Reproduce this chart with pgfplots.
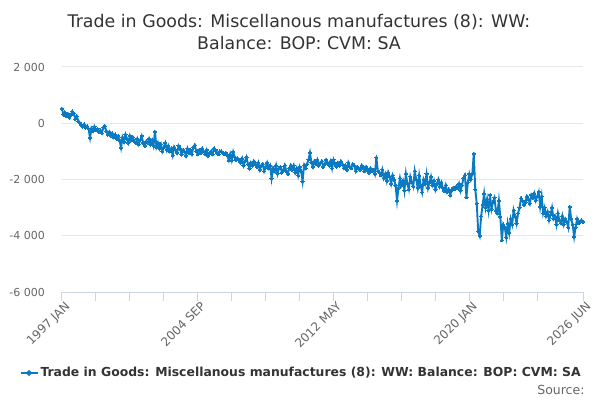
\documentclass[border=0pt]{standalone}
\usepackage{pgfplots}
\usepackage{pgfplotstable}
\pgfplotsset{compat=1.18}
\usepackage{fontspec}
\setmainfont{DejaVu Sans}
\definecolor{ser}{RGB}{10,122,195}
\definecolor{titlec}{HTML}{333333}
\definecolor{tickc}{HTML}{666666}
\definecolor{gridc}{HTML}{E6E6E6}
\definecolor{axisc}{HTML}{CCD6EB}
\pgfplotstableread{
v
520
300
380
250
330
200
280
420
350
150
250
80
20
-60
-120
-40
-150
-100
-200
-520
-180
-280
-120
-250
-200
-300
-250
-350
-150
-100
-280
-400
-300
-450
-350
-500
-400
-550
-450
-600
-870
-500
-650
-400
-550
-700
-450
-600
-500
-650
-700
-550
-750
-600
-450
-700
-800
-650
-700
-550
-750
-600
-800
-300
-850
-700
-900
-750
-1000
-850
-700
-950
-800
-1000
-900
-1140
-850
-950
-1050
-800
-900
-1100
-950
-1000
-1150
-900
-1050
-950
-1100
-850
-780
-1000
-1100
-950
-1050
-900
-1000
-1100
-950
-1150
-1050
-1000
-1100
-900
-950
-1050
-1100
-1000
-1000
-1050
-1100
-1050
-1150
-1320
-1100
-1320
-1020
-1200
-1300
-1250
-1300
-1400
-1250
-1500
-1350
-1200
-1450
-1600
-1400
-1500
-1350
-1450
-1550
-1400
-1650
-1500
-1450
-1700
-1550
-1400
-1600
-1500
-1960
-1600
-1700
-1500
-1800
-1600
-1550
-1750
-1650
-1500
-1700
-1800
-1600
-1490
-1650
-1500
-1750
-1600
-1850
-1550
-1700
-2060
-1500
-1600
-1450
-1300
-1050
-1400
-1550
-1350
-1450
-1300
-1500
-1400
-1350
-1550
-1450
-1300
-1400
-1500
-1350
-1600
-1300
-1450
-1550
-1400
-1500
-1350
-1450
-1600
-1500
-1650
-1400
-1550
-1600
-1450
-1500
-1700
-1550
-1600
-1650
-1500
-1600
-1700
-1550
-1650
-1750
-1600
-1700
-1650
-1800
-1210
-1700
-1750
-1850
-1650
-1950
-1800
-2050
-1750
-1900
-2150
-1850
-2000
-2200
-2760
-2300
-1950
-2200
-2050
-2400
-1800
-2150
-2350
-1900
-2100
-2250
-1700
-2000
-2300
-1850
-2200
-2450
-2000
-2150
-1800
-2300
-2100
-1900
-2200
-2050
-2350
-2150
-2000
-2250
-2100
-2300
-2400
-2200
-2450
-2350
-2560
-2400
-2300
-2350
-2250
-2300
-2150
-2400
-2200
-1950
-1850
-2630
-2100
-1800
-2000
-1800
-1080
-2350
-2850
-3850
-4000
-3300
-2900
-2500
-3000
-2700
-3100
-2550
-3050
-2800
-2650
-3100
-3200
-2750
-3330
-4160
-3600
-3700
-4050
-3560
-3900
-3400
-3600
-3090
-3300
-3560
-3200
-3000
-2670
-2750
-2900
-2800
-2600
-2700
-2850
-2550
-2650
-2490
-2750
-2600
-2440
-2970
-2600
-3200
-3000
-3300
-3150
-3450
-3250
-3000
-3400
-3300
-3600
-3200
-3450
-3550
-3300
-3600
-3400
-3500
-3700
-2970
-3400
-3600
-4040
-3700
-3400
-3550
-3500
-3450
-3510
}\datatable
\begin{document}
\begin{tikzpicture}
\useasboundingbox (0pt,0pt) rectangle (600pt,400pt);
\node[font=\fontsize{17.4}{22}\selectfont, text=titlec, align=center] at (299pt,368pt) {Trade in Goods: Miscellanous manufactures (8): WW:\\Balance: BOP: CVM: SA};
\node[font=\fontsize{12.5}{14}\selectfont, text=tickc, anchor=east] at (588pt,10pt) {Source:};
\begin{axis}[
  at={(62pt,108pt)}, anchor=south west,
  scale only axis, width=521pt, height=225pt,
  xmin=0, xmax=353, ymin=-6000, ymax=2000,
  axis x line*=bottom, axis y line*=left,
  x axis line style={draw=axisc, line width=1pt},
  y axis line style={draw=none},
  ytick={-6000,-4000,-2000,0,2000},
  yticklabels={},
  ymajorgrids, grid style={draw=gridc, line width=1pt},
  ytick style={draw=none},
  xtick={0,92,184,276,353},
  xticklabels={1997 JAN,2004 SEP,2012 MAY,2020 JAN,2026 JUN},
  minor xtick={23,46,69,115,138,161,207,230,253,299,322},
  xtick align=outside, major tick length=9pt, minor tick length=9pt,
  xtick style={draw=axisc, line width=1pt},
  minor x tick style={draw=axisc, line width=1pt},
  xticklabel style={rotate=45, anchor=north east, inner sep=1pt, font=\fontsize{12}{14}\selectfont, text=tickc, xshift=3pt},
  /pgf/number format/assume math mode=true,
  clip=false,
  legend style={at={(axis description cs:0.459,-0.36)}, anchor=center, draw=none, fill=none, font=\bfseries\fontsize{12.4}{14}\selectfont, text=titlec, inner sep=0pt},
  legend image code/.code={\draw[#1, mark=none] (0pt,0pt) -- (17pt,0pt); \fill[ser] (8.5pt,0pt) circle (1.8pt);},
]
\addplot[ser, line width=1.9pt, mark=*, mark size=1.6pt, mark options={fill=ser, draw=ser, line width=0pt}] table[x expr=\coordindex, y=v] {\datatable};
\addlegendentry{Trade in Goods: Miscellanous manufactures (8): WW: Balance: BOP: CVM: SA}
\begin{scope}[every node/.style={font=\fontsize{11}{13}\selectfont, text=tickc, anchor=east, inner sep=0pt}]
\node at ([xshift=-17pt]axis cs:0,2000) {2 000};
\node at ([xshift=-17pt]axis cs:0,0) {0};
\node at ([xshift=-17pt]axis cs:0,-2000) {-2 000};
\node at ([xshift=-17pt]axis cs:0,-4000) {-4 000};
\node at ([xshift=-17pt]axis cs:0,-6000) {-6 000};
\end{scope}
\end{axis}
\end{tikzpicture}
\end{document}
